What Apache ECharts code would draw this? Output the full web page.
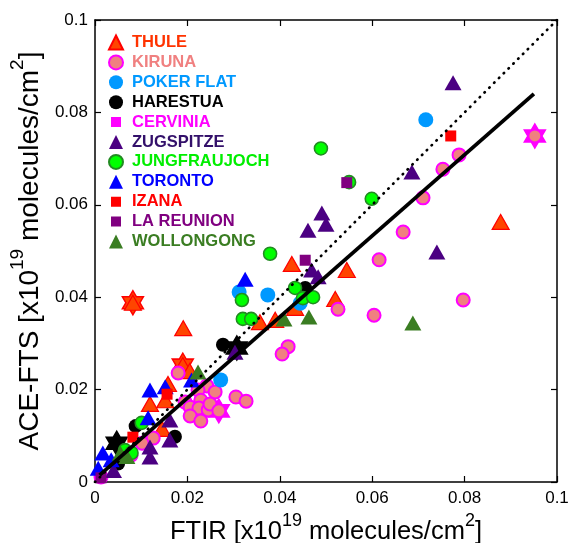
<!DOCTYPE html>
<html>
<head>
<meta charset="utf-8">
<script src="https://cdn.jsdelivr.net/npm/echarts@6/dist/echarts.min.js"></script>
<style>
html,body{margin:0;padding:0;background:#fff;}
#chart{width:571px;height:543px;}
</style>
</head>
<body>
<div id="chart"></div>
<script>
// ---------- DATA (FTIR, ACE-FTS) in 1e19 molecules/cm2 ----------
var stationNames = ['THULE','KIRUNA','POKER FLAT','HARESTUA','CERVINIA','ZUGSPITZE','JUNGFRAUJOCH','TORONTO','IZANA','LA REUNION','WOLLONGONG'];

var thule = [[0.0082,0.0388],[0.0190,0.0253],[0.0191,0.0333],[0.0878,0.0563],[0.0545,0.0459],[0.0426,0.0472],
  [0.0520,0.0396],[0.0433,0.0377],[0.0390,0.0351],[0.0357,0.0346],[0.0158,0.0212],[0.0119,0.0169],
  [0.0152,0.0177],[0.0145,0.0115],[0.0205,0.0240]];
var thuleStars = [[0.0082,0.0388],[0.0190,0.0253]];

var kiruna = [[0.0788,0.0708],[0.0753,0.0677],[0.0710,0.0615],[0.0667,0.0541],[0.0615,0.0481],[0.0797,0.0394],
  [0.0526,0.0374],[0.0604,0.0361],[0.0418,0.0293],[0.0405,0.0277],[0.0180,0.0236],[0.0242,0.0208],
  [0.0223,0.0199],[0.0260,0.0195],[0.0195,0.0173],[0.0229,0.0177],[0.0206,0.0162],[0.0225,0.0160],
  [0.0206,0.0143],[0.0245,0.0156],[0.0229,0.0132],[0.0305,0.0184],[0.0327,0.0175],[0.0249,0.0169],
  [0.0126,0.0095],[0.0102,0.0084],[0.0078,0.0058],[0.0013,0.0011],[0.0952,0.0749],[0.0268,0.0154]];
var kirunaStars = [[0.0952,0.0749],[0.0268,0.0154]];

var pokerFlat = [[0.0716,0.0784],[0.0374,0.0405],[0.0312,0.0411],[0.0444,0.0387],[0.0272,0.0221]];

var harestua = [[0.0277,0.0297],[0.0455,0.0420],[0.0173,0.0098],[0.0088,0.0121],[0.0050,0.0040],[0.0307,0.0290],[0.0047,0.0084]];
var harestuaStars = [[0.0307,0.0290],[0.0047,0.0084]];

var cervinia = [[0.0012,0.0010]];

var zugspitze = [[0.0775,0.0864],[0.0686,0.0671],[0.0740,0.0498],[0.0491,0.0582],[0.0461,0.0545],[0.0500,0.0558],
  [0.0469,0.0459],[0.0483,0.0444],[0.0303,0.0281],[0.0162,0.0134],[0.0162,0.0091],[0.0119,0.0076],
  [0.0119,0.0054],[0.0040,0.0025]];

var jungfraujoch = [[0.0489,0.0722],[0.0550,0.0649],[0.0599,0.0613],[0.0379,0.0494],[0.0433,0.0420],[0.0450,0.0398],
  [0.0472,0.0400],[0.0318,0.0394],[0.0320,0.0353],[0.0338,0.0353],[0.0101,0.0128],[0.0065,0.0069],[0.0079,0.0063]];

var toronto = [[0.0325,0.0439],[0.0119,0.0199],[0.0152,0.0206],[0.0209,0.0221],[0.0115,0.0139],[0.0017,0.0063],
  [0.0007,0.0030],[0.0035,0.0048]];

var izana = [[0.0770,0.0749],[0.0156,0.0190],[0.0082,0.0097]];

var laReunion = [[0.0545,0.0648],[0.0455,0.0480],[0.0013,0.0009]];

var wollongong = [[0.0688,0.0344],[0.0463,0.0357],[0.0409,0.0353],[0.0223,0.0238],[0.0069,0.0055],[0.0055,0.0062]];

var fitLine = [[0.0010,0.0015],[0.0950,0.0840]];
var oneToOne = [[0,0],[0.1,0.1]];

var axisMin = 0, axisMax = 0.1, axisStep = 0.02;

// ---------- STYLE ----------
var FONT = 'Liberation Sans';
var hexagram = 'path://M0,-10L2.887,-5L8.66,-5L5.774,0L8.66,5L2.887,5L0,10L-2.887,5L-8.66,5L-5.774,0L-8.66,-5L-2.887,-5Z';
var smallSquareIcon = 'path://M0,0L0.01,0L0,0.01Z M2,2L12,2L12,12L2,12Z M14,14L13.99,14L14,13.99Z';
var TRI = [17,15];

function scatter(name, data, symbol, size, fill, edge, bw) {
  return {
    name: name, type: 'scatter', data: data, symbol: symbol, symbolSize: size,
    itemStyle: {color: fill, borderColor: edge || fill, borderWidth: bw || 0, opacity: 1},
    emphasis: {disabled: true}, z: 3
  };
}
function stars(data, fill, edge) {
  return {
    type: 'scatter', data: data, symbol: hexagram, symbolSize: [21,24], symbolKeepAspect: false,
    itemStyle: {color: fill, borderColor: edge, borderWidth: 1.5, opacity: 1},
    emphasis: {disabled: true}, z: 3, silent: true
  };
}

var series = [
  stars(thuleStars, '#ff4500', '#ff0000'),
  scatter('THULE', thule, 'triangle', TRI, '#ff4500', '#ff0000', 1.2),
  stars(kirunaStars, '#ff00ff', '#ff00ff'),
  scatter('KIRUNA', kiruna, 'circle', 13, '#f08080', '#ff00ff', 2),
  scatter('POKER FLAT', pokerFlat, 'circle', 15, '#0099ff'),
  stars(harestuaStars, '#000000', '#000000'),
  scatter('HARESTUA', harestua, 'circle', 14, '#000000'),
  scatter('CERVINIA', cervinia, 'rect', 11, '#ff00ff'),
  scatter('ZUGSPITZE', zugspitze, 'triangle', TRI, '#4b0082'),
  scatter('JUNGFRAUJOCH', jungfraujoch, 'circle', 13, '#00ff00', '#228b22', 1.6),
  scatter('TORONTO', toronto, 'triangle', TRI, '#0000ff'),
  scatter('IZANA', izana, 'rect', 11, '#ff0000'),
  scatter('LA REUNION', laReunion, 'rect', 11, '#800080'),
  scatter('WOLLONGONG', wollongong, 'triangle', TRI, '#3a7d22'),
  {type: 'line', data: oneToOne, showSymbol: false, symbol: 'none', silent: true, z: 5,
   lineStyle: {color: '#000', width: 2.7, type: [0.5, 6.3], cap: 'round'}},
  {type: 'line', data: fitLine, showSymbol: false, symbol: 'none', silent: true, z: 6,
   lineStyle: {color: '#000', width: 3.8}}
];

var legendColors = {
  'THULE':'#ff3300','KIRUNA':'#f08080','POKER FLAT':'#0099ff','HARESTUA':'#000000','CERVINIA':'#ff00ff',
  'ZUGSPITZE':'#33106a','JUNGFRAUJOCH':'#00ee00','TORONTO':'#0000ff','IZANA':'#ff0000','LA REUNION':'#800080',
  'WOLLONGONG':'#3a7d22'
};
var legendSquare = {'CERVINIA':1,'IZANA':1,'LA REUNION':1};

var axisCommon = {
  type: 'value', min: axisMin, max: axisMax, interval: axisStep,
  splitLine: {show: false},
  axisLine: {show: true, onZero: false, lineStyle: {color: '#000', width: 1.5}},
  axisTick: {show: true, inside: true, length: 6, lineStyle: {color: '#000', width: 1.2}}
};
var labelStyle = {color: '#000', fontFamily: FONT, fontSize: 17};
function nameRich(big, small){
  return {
    m: {fontFamily: FONT, fontSize: big, color: '#000', lineHeight: big + 8, verticalAlign: 'bottom'},
    s: {fontFamily: FONT, fontSize: small, color: '#000', lineHeight: small + 1, verticalAlign: 'top'}
  };
}

var option = {
  backgroundColor: '#fff',
  animation: false,
  grid: {left: 95, top: 20, width: 462, height: 462, containLabel: false, outerBoundsMode: 'none'},
  legend: {
    orient: 'vertical', left: 103, top: 29, itemGap: 2.9, itemWidth: 14, itemHeight: 14,
    selectedMode: false,
    textStyle: {fontFamily: FONT, fontWeight: 'bold', fontSize: 16.5, lineHeight: 14, padding: [0,0,0,4]},
    data: stationNames.map(function(n){
      var d = {name: n, textStyle: {color: legendColors[n]}};
      if (legendSquare[n]) d.icon = smallSquareIcon;
      return d;
    })
  },
  xAxis: [
    Object.assign({}, axisCommon, {
      position: 'bottom',
      axisLabel: Object.assign({margin: 8}, labelStyle),
      name: '{m|FTIR [x10}{s|19}{m| molecules/cm}{s|2}{m|]}',
      nameLocation: 'middle', nameGap: 19,
      nameTextStyle: {rich: nameRich(25.5, 18)}
    }),
    Object.assign({}, axisCommon, {position: 'top', axisLabel: {show: false}})
  ],
  yAxis: [
    Object.assign({}, axisCommon, {
      position: 'left',
      axisLabel: Object.assign({margin: 7}, labelStyle),
      name: '{m|ACE-FTS [x10}{s|19}{m| molecules/cm}{s|2}{m|]}',
      nameLocation: 'middle', nameGap: 36,
      nameTextStyle: {rich: nameRich(28, 19)}
    }),
    Object.assign({}, axisCommon, {position: 'right', axisLabel: {show: false}})
  ],
  series: series
};

var chart = echarts.init(document.getElementById('chart'), null, {renderer: 'canvas'});
chart.setOption(option);
</script>
</body>
</html>
